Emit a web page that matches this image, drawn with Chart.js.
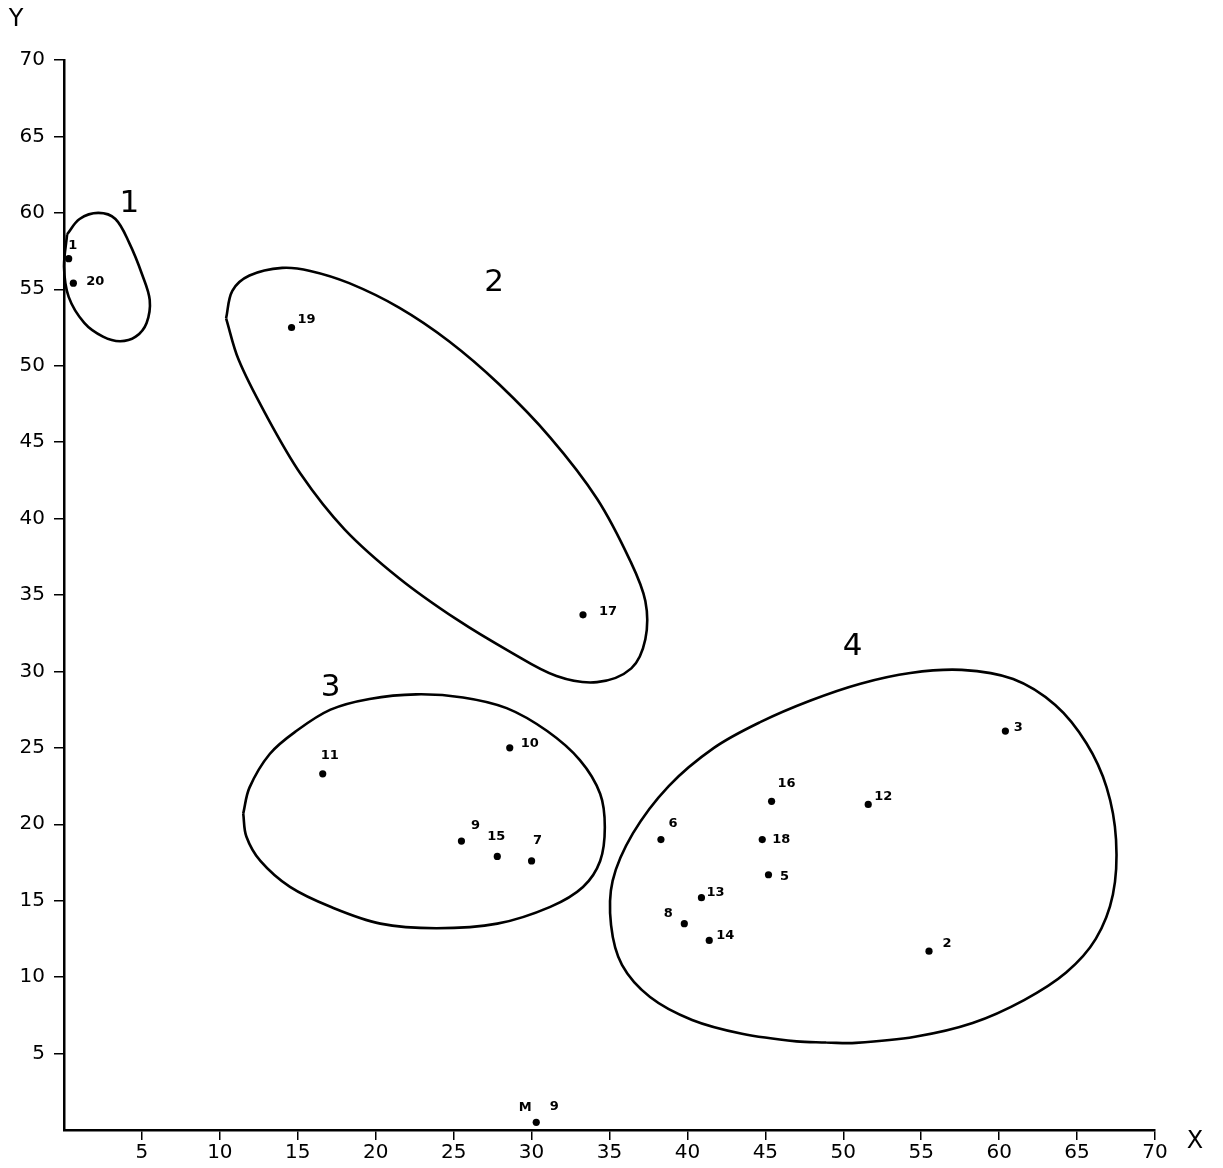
<!DOCTYPE html>
<html><head><meta charset="utf-8">
<script src="https://cdn.jsdelivr.net/npm/chart.js@4/dist/chart.umd.min.js"></script>
<style>html,body{margin:0;padding:0;background:#fff}</style>
</head><body>
<canvas id="c" width="1223" height="1168"></canvas>
<script>
// ---- data ----
const pointIds = ['1','20','19','17','11','10','9','15','7','6','16','12','3','18','5','13','8','14','2','M 9'];
const pointX   = [0.3, 0.6, 14.6, 33.3, 16.6, 28.6, 25.5, 27.8, 30.0, 38.3, 45.4, 51.6, 60.4, 44.8, 45.2, 40.9, 39.8, 41.4, 55.5, 30.3];
const pointY   = [57.0, 55.4, 52.5, 33.7, 23.3, 25.0, 18.9, 17.9, 17.6, 19.0, 21.5, 21.3, 26.1, 19.0, 16.7, 15.2, 13.5, 12.4, 11.7, 0.5];

const xTickLabels = [5,10,15,20,25,30,35,40,45,50,55,60,65,70];
const yTickLabels = [5,10,15,20,25,30,35,40,45,50,55,60,65,70];

const clusterNames = ['1','2','3','4'];
const clusterNameX = [4.2, 27.6, 17.1, 50.6];
const clusterNameY = [60.6, 55.4, 28.9, 31.6];

const outline1 = [[0.2,58.6],[1.0,59.6],[2.2,60.0],[3.3,59.6],[4.2,58.0],[5.0,56.0],[5.5,54.3],[5.3,52.8],[4.6,51.9],[3.6,51.6],[2.5,51.9],[1.3,52.8],[0.3,54.5],[0.0,56.5],[0.2,58.6]];
const outline2 = [[10.4,53.1],[10.8,54.9],[11.9,55.9],[14.0,56.4],[15.8,56.2],[18.3,55.4],[21.5,53.8],[24.7,51.6],[27.9,48.8],[31.2,45.3],[34.2,41.3],[36.3,37.3],[37.3,34.6],[37.3,32.1],[36.4,30.2],[34.2,29.3],[31.6,29.7],[28.6,31.3],[25.2,33.4],[21.5,36.1],[18.0,39.3],[15.2,42.9],[12.9,46.9],[11.2,50.4],[10.4,53.1]];
const outline3 = [[11.5,20.7],[11.9,22.4],[13.2,24.6],[14.9,26.1],[17.1,27.5],[19.6,28.2],[22.6,28.5],[25.6,28.3],[28.4,27.6],[31.0,26.1],[33.1,24.2],[34.4,22.0],[34.7,19.8],[34.4,17.6],[33.3,15.9],[31.2,14.6],[27.8,13.5],[23.9,13.2],[20.3,13.5],[17.1,14.6],[14.5,15.9],[12.6,17.6],[11.7,19.2],[11.5,20.7]];
const outline4 = [[48.9,5.72],[47.0,5.8],[43.5,6.3],[40.3,7.2],[37.6,8.7],[35.8,10.8],[35.1,13.4],[35.2,16.3],[36.5,19.4],[38.8,22.5],[41.7,25.0],[44.7,26.7],[47.9,28.1],[51.1,29.2],[54.3,29.9],[57.6,30.1],[60.9,29.5],[63.6,27.8],[65.6,25.3],[66.9,22.4],[67.5,19.0],[67.3,15.4],[66.2,12.5],[64.3,10.3],[61.6,8.5],[58.3,7.0],[54.6,6.1],[50.8,5.7],[48.9,5.72]];

// ---- label placement (pixel offsets from the dot) ----
const labelOffsets = {
  '1':[4,-13],'20':[22,-2],'19':[15,-8],'17':[25,-3],'11':[7,-18],'10':[20,-4],
  '9':[14,-15],'15':[-1,-20],'7':[6,-20],'6':[12,-16],'16':[15,-18],'12':[15,-8],
  '3':[13,-3],'18':[19,0],'5':[16,2],'13':[14,-5],'8':[-16,-10],'14':[16,-5],'2':[18,-8]
};
const splitOffsets = {'M 9':[[-11,-15],[18,-16]]};

const points = pointX.map((x,i)=>({x, y:pointY[i], id:pointIds[i]}));
const outlines = [outline1, outline2, outline3, outline4];

const FONT = '"DejaVu Sans", "Liberation Sans", sans-serif';

const annot = {
  id:'annot',
  afterDatasetsDraw(chart){
    const {ctx, scales:{x, y}, chartArea} = chart;
    ctx.save();
    ctx.fillStyle = '#000';
    ctx.textBaseline = 'middle';
    ctx.textAlign = 'center';
    ctx.font = 'bold 13px ' + FONT;
    points.forEach(p=>{
      const px = x.getPixelForValue(p.x), py = y.getPixelForValue(p.y);
      if (splitOffsets[p.id]) {
        const parts = p.id.split(' ');
        splitOffsets[p.id].forEach((o,k)=>ctx.fillText(parts[k], px+o[0], py+o[1]));
      } else {
        const o = labelOffsets[p.id] || [12,-8];
        ctx.fillText(p.id, px+o[0], py+o[1]);
      }
    });
    ctx.font = '31px ' + FONT;
    clusterNames.forEach((n,i)=>{
      ctx.fillText(n, x.getPixelForValue(clusterNameX[i]), y.getPixelForValue(clusterNameY[i]));
    });
    ctx.font = '24px ' + FONT;
    ctx.fillText('Y', chartArea.left - 48, chartArea.top - 40);
    ctx.fillText('X', chartArea.right + 40, chartArea.bottom + 12);
    ctx.restore();
  }
};

const axisCommon = {
  type:'linear', min:0, max:70,
  border:{display:true, color:'#000', width:2.5},
  grid:{drawOnChartArea:false, drawTicks:true, tickLength:10, color:'#000', lineWidth:1.5},
  ticks:{color:'#000', font:{size:20, family:FONT}, autoSkip:false, maxRotation:0}
};

new Chart(document.getElementById('c'), {
  type:'scatter',
  data:{datasets:[
    {data:points, pointRadius:3.6, pointBackgroundColor:'#000', pointBorderWidth:0, showLine:false, clip:false},
    ...outlines.map(o=>({data:o.map(([px,py])=>({x:px,y:py})), showLine:true, pointRadius:0,
      borderColor:'#000', borderWidth:2.6, tension:0.35, fill:false, clip:false}))
  ]},
  options:{
    responsive:false, animation:false, events:[],
    layout:{padding:{top:60, right:68, left:0, bottom:0}},
    plugins:{legend:{display:false}, tooltip:{enabled:false}},
    scales:{
      x:{...axisCommon,
        afterBuildTicks:s=>{s.ticks = xTickLabels.map(v=>({value:v}));},
        afterFit:s=>{s.height = 38;},
        ticks:{...axisCommon.ticks, padding:1}},
      y:{...axisCommon,
        afterBuildTicks:s=>{s.ticks = yTickLabels.map(v=>({value:v}));},
        afterFit:s=>{s.width = 64;},
        ticks:{...axisCommon.ticks, padding:9}}
    }
  },
  plugins:[annot]
});
</script>
</body></html>
